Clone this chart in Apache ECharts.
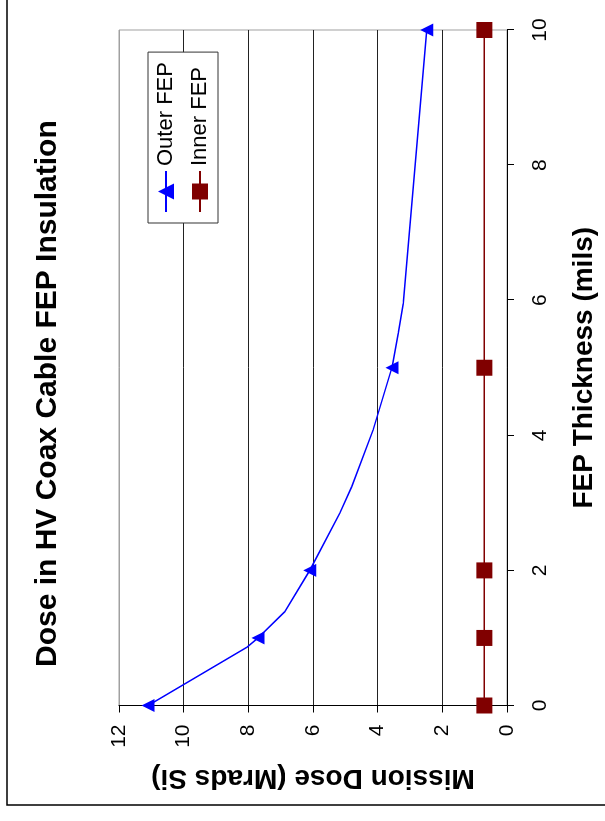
<!DOCTYPE html>
<html>
<head>
<meta charset="utf-8">
<title>Dose in HV Coax Cable FEP Insulation</title>
<script src="https://cdn.jsdelivr.net/npm/echarts@6/dist/echarts.min.js"></script>
<style>
  html, body { margin: 0; padding: 0; background: #ffffff; overflow: hidden; }
  body { width: 605px; height: 821px; position: relative; }
  /* The chart is laid out landscape and turned a quarter turn counter-clockwise on the portrait page */
  #chart {
    position: absolute; left: 0; top: 0;
    width: 821px; height: 605px;
    transform-origin: 0 0;
    transform: translateY(821px) rotate(-90deg);
  }
</style>
</head>
<body>
<div id="chart"></div>
<script>
// FEP thickness (mils) vs. mission dose (Mrads Si)
const seriesNames = ['Outer FEP', 'Inner FEP'];

const outerThickness = [0, 0.86, 1, 1.39, 2, 2.85, 3.24, 4.08, 5, 5.51, 5.95, 10];
const outerDose      = [11.1, 8.05, 7.7, 6.87, 6.1, 5.17, 4.8, 4.14, 3.56, 3.36, 3.21, 2.48];
// thickness values that carry a plotted marker on the outer curve
const outerMarkerThickness = [0, 1, 2, 5, 10];

const innerThickness = [0, 1, 2, 5, 10];
const innerDose      = [0.7, 0.7, 0.7, 0.7, 0.7];

const thicknessTicks = [0, 2, 4, 6, 8, 10];
const doseTicks = [0, 2, 4, 6, 8, 10, 12];

const FONT = 'Liberation Sans, Arial, Helvetica, sans-serif';

const outerData = outerThickness.map((t, i) => {
  const item = { value: [t, outerDose[i]] };
  if (outerMarkerThickness.indexOf(t) < 0) item.symbol = 'none';
  return item;
});
const innerData = innerThickness.map((t, i) => [t, innerDose[i]]);

const chart = echarts.init(document.getElementById('chart'), null, { renderer: 'canvas' });

chart.setOption({
  animation: false,
  backgroundColor: '#ffffff',
  textStyle: { fontFamily: FONT, color: '#000' },
  title: {
    text: 'Dose in HV Coax Cable FEP Insulation',
    left: 154,
    top: 33,
    padding: 0,
    textStyle: { fontFamily: FONT, fontSize: 30, fontWeight: 'bold', color: '#000' }
  },
  graphic: [{
    type: 'rect',
    shape: { x: 16, y: 7, width: 900, height: 700 },
    style: { fill: 'none', stroke: '#000', lineWidth: 1.5 },
    silent: true
  }],
  legend: {
    orient: 'vertical',
    left: 598,
    top: 148,
    padding: [7, 10, 7, 10],
    itemWidth: 41,
    itemHeight: 20,
    itemGap: 12,
    borderColor: '#333',
    borderWidth: 1,
    backgroundColor: '#fff',
    data: seriesNames,
    textStyle: { fontFamily: FONT, fontSize: 22, color: '#000' }
  },
  grid: {
    left: 115.5,
    right: 30,
    top: 119,
    bottom: 98,
    show: true,
    borderColor: '#a0a0a0',
    borderWidth: 1,
    containLabel: false
  },
  xAxis: {
    type: 'value',
    min: thicknessTicks[0],
    max: thicknessTicks[thicknessTicks.length - 1],
    interval: thicknessTicks[1] - thicknessTicks[0],
    name: 'FEP Thickness (mils)',
    nameLocation: 'middle',
    nameGap: 63,
    nameTextStyle: { fontFamily: FONT, fontSize: 28, fontWeight: 'bold', color: '#000' },
    axisLine: { show: true, onZero: false, lineStyle: { color: '#000', width: 1 } },
    axisTick: { show: true, inside: false, length: 7, lineStyle: { color: '#000' } },
    axisLabel: { fontFamily: FONT, fontSize: 21, color: '#000', margin: 23 },
    splitLine: { show: false }
  },
  yAxis: {
    type: 'value',
    min: doseTicks[0],
    max: doseTicks[doseTicks.length - 1],
    interval: doseTicks[1] - doseTicks[0],
    name: 'Mission Dose (Mrads Si)',
    nameLocation: 'middle',
    nameRotate: 90,
    nameGap: 58,
    nameTextStyle: { fontFamily: FONT, fontSize: 28, fontWeight: 'bold', color: '#000' },
    axisLine: { show: true, onZero: false, lineStyle: { color: '#000', width: 1 } },
    axisTick: { show: true, inside: false, length: 7, lineStyle: { color: '#000' } },
    axisLabel: { fontFamily: FONT, fontSize: 21, color: '#000', margin: 19 },
    splitLine: {
      show: true,
      lineStyle: { color: ['#000', '#222', '#222', '#222', '#222', '#222', '#a0a0a0'], width: 1 }
    }
  },
  series: [
    {
      name: seriesNames[0],
      type: 'line',
      data: outerData,
      symbol: 'triangle',
      symbolSize: 13,
      showAllSymbol: true,
      lineStyle: { color: '#0000ff', width: 1.5 },
      itemStyle: { color: '#0000ff' },
      z: 3
    },
    {
      name: seriesNames[1],
      type: 'line',
      data: innerData,
      symbol: 'rect',
      symbolSize: 16,
      showAllSymbol: true,
      lineStyle: { color: '#800000', width: 1.5 },
      itemStyle: { color: '#800000' },
      z: 2
    }
  ]
});
</script>
</body>
</html>
